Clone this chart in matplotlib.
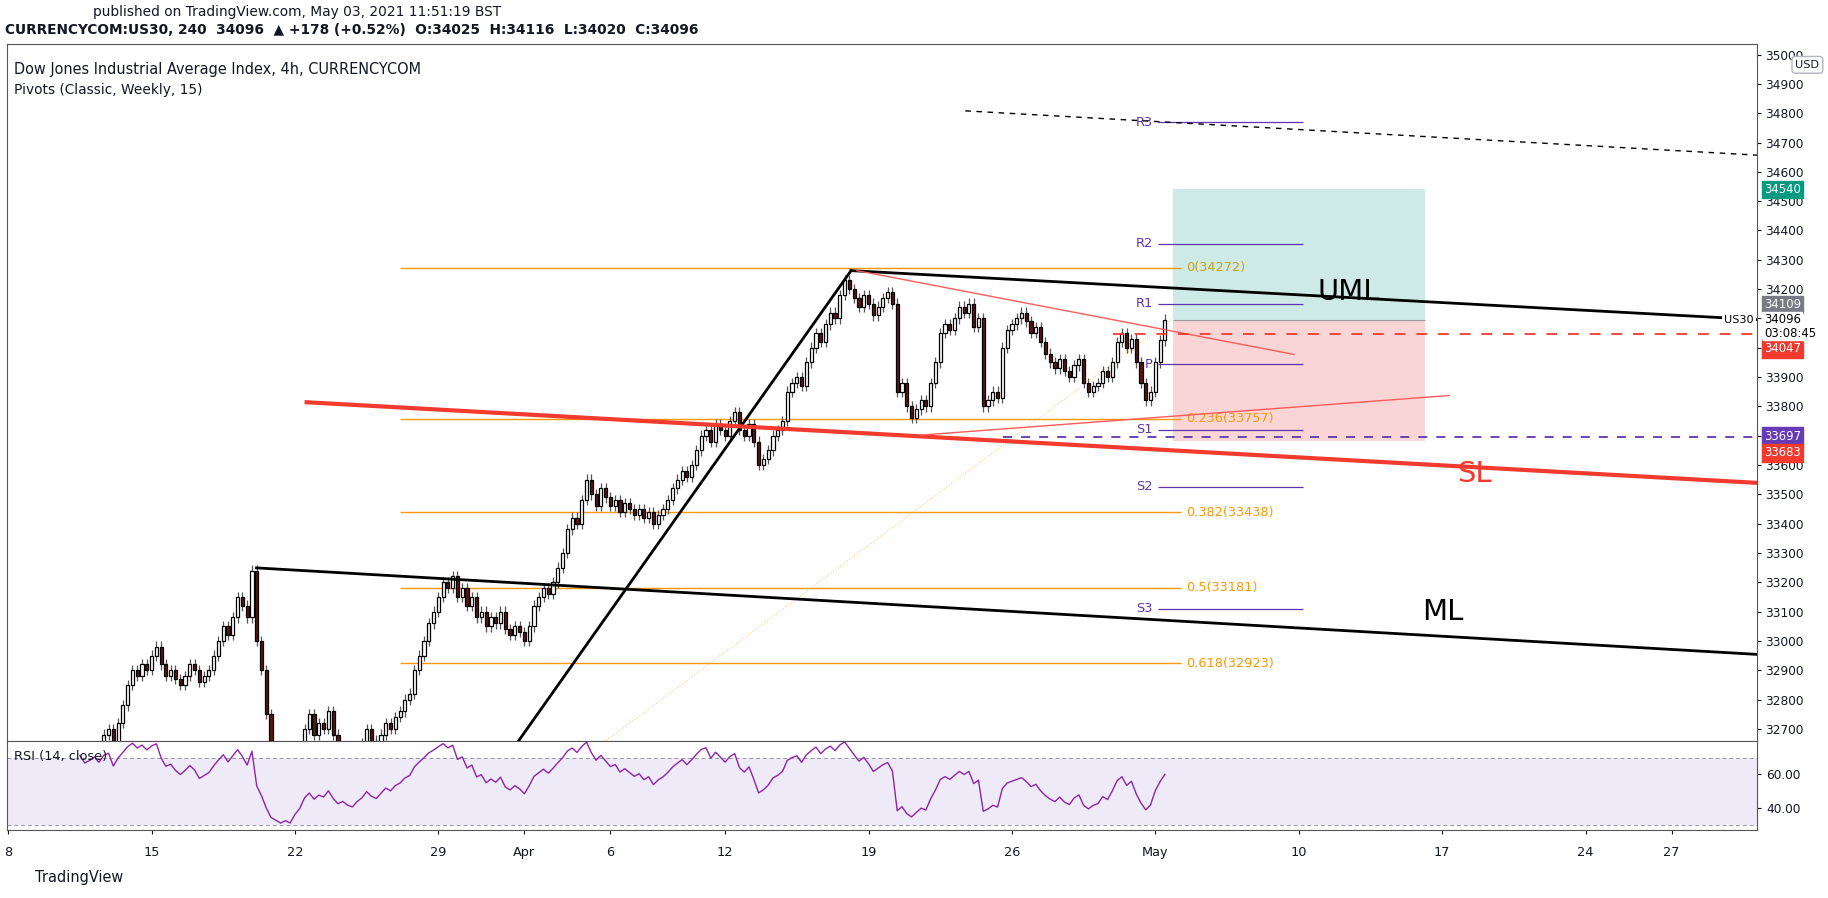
import numpy as np
import matplotlib
matplotlib.use("Agg")
import matplotlib.pyplot as plt
from matplotlib.patches import Rectangle

# --- data: 4h closes, one row per trading day (Mar 8 .. May 3, 2021) ---
closes_by_day = [
    [32400, 32450, 32420, 32480, 32500, 32460],
    [32480, 32520, 32550, 32500, 32530, 32560],
    [32580, 32550, 32600, 32620, 32590, 32610],
    [32640, 32620, 32680, 32700, 32650, 32720],
    [32780, 32850, 32900, 32880, 32920, 32900],
    [32950, 32980, 32920, 32880, 32900, 32870],
    [32850, 32880, 32920, 32900, 32860, 32880],
    [32900, 32950, 33000, 33050, 33020, 33080],
    [33150, 33120, 33080, 33240, 33000, 32900],
    [32750, 32600, 32550, 32500, 32520, 32480],
    [32550, 32600, 32700, 32750, 32680, 32720],
    [32700, 32760, 32680, 32620, 32640, 32600],
    [32580, 32620, 32650, 32700, 32660, 32640],
    [32680, 32720, 32700, 32740, 32760, 32800],
    [32820, 32900, 32950, 33000, 33060, 33100],
    [33150, 33200, 33180, 33220, 33150, 33180],
    [33120, 33150, 33080, 33100, 33050, 33080],
    [33060, 33100, 33040, 33020, 33050, 33030],
    [33000, 33050, 33120, 33150, 33180, 33160],
    [33200, 33250, 33300, 33380, 33420, 33400],
    [33480, 33550, 33500, 33460, 33520, 33490],
    [33460, 33480, 33440, 33470, 33450, 33430],
    [33450, 33420, 33440, 33400, 33430, 33450],
    [33480, 33520, 33550, 33580, 33560, 33600],
    [33650, 33700, 33720, 33680, 33740, 33720],
    [33700, 33750, 33780, 33720, 33700, 33740],
    [33680, 33600, 33620, 33650, 33700, 33720],
    [33750, 33850, 33880, 33900, 33870, 33950],
    [34000, 34050, 34020, 34080, 34120, 34100],
    [34180, 34230, 34200, 34170, 34140, 34180],
    [34150, 34110, 34140, 34170, 34190, 34150],
    [33850, 33880, 33800, 33760, 33790, 33820],
    [33800, 33880, 33950, 34050, 34080, 34060],
    [34100, 34140, 34120, 34150, 34070, 34100],
    [33800, 33820, 33850, 33830, 34000, 34060],
    [34080, 34100, 34120, 34090, 34050, 34070],
    [34020, 33980, 33950, 33930, 33960, 33920],
    [33900, 33940, 33960, 33880, 33850, 33870],
    [33880, 33920, 33900, 33950, 34020, 34050],
    [34000, 34030, 33950, 33880, 33820, 33850],
    [33950, 34025, 34096],
]
first_open = 32380

tick_days = [0, 5, 10, 15, 18, 21, 25, 30, 35, 40, 45, 50, 55, 58]
tick_labels = ["8", "15", "22", "29", "Apr", "6", "12", "19", "26", "May", "10", "17", "24", "27"]

fib_levels = [34272, 33757, 33438, 33181, 32923]
fib_labels = ["0(34272)", "0.236(33757)", "0.382(33438)", "0.5(33181)", "0.618(32923)"]
pivot_levels = [34770, 34355, 34150, 33943, 33720, 33525, 33110]
pivot_labels = ["R3", "R2", "R1", "P", "S1", "S2", "S3"]

BARS_PER_DAY = 6
closes = np.array([c for day in closes_by_day for c in day], dtype=float)
opens = np.concatenate([[first_open], closes[:-1]])
n = len(closes)
idx = np.arange(n)

# RSI(14), Wilder smoothing
diff = np.diff(closes, prepend=first_open)
gain = np.clip(diff, 0, None)
loss = np.clip(-diff, 0, None)
rsi = np.full(n, np.nan)
ag, al = gain[1:15].mean(), loss[1:15].mean()
for i in range(15, n):
    ag = (ag * 13 + gain[i]) / 14
    al = (al * 13 + loss[i]) / 14
    rsi[i] = 100 - 100 / (1 + ag / al) if al > 0 else 100

# --- figure (layout measured on a 1568x770 grid) ---
W, H = 1568, 770
FS = 1.16
fig = plt.figure(figsize=(18.28, 8.98), dpi=100)
L, R = 6, 1507


def rect(y0, y1):
    return [L / W, 1 - y1 / H, (R - L) / W, (y1 - y0) / H]


ax = fig.add_axes(rect(38, 635))
axr = fig.add_axes(rect(635, 712), sharex=ax)
px_per_bar = 4.1
x0 = 7
xmin, xmax = (L - x0) / px_per_bar, (R - x0) / px_per_bar
ax.set_xlim(xmin, xmax)
ax.set_ylim(32660, 35035)


def bx(px):
    return (px - x0) / px_per_bar


# candles
wick = 18
for i in idx:
    o, c = opens[i], closes[i]
    ax.vlines(i, min(o, c) - wick, max(o, c) + wick, color="#555555", lw=0.9, zorder=3)
    up = c >= o
    ax.add_patch(Rectangle((i - 0.33, min(o, c)), 0.66, max(abs(c - o), 3),
                           facecolor="white" if up else "#5d1414", edgecolor="black",
                           lw=0.9, zorder=4))

# fib lines
fib_colors = ["#c9a010", "#ff9800", "#ff9800", "#ff9800", "#ff9800"]
for lvl, lab, col in zip(fib_levels, fib_labels, fib_colors):
    ax.hlines(lvl, bx(343), bx(1013), color="#ff9800", lw=1, zorder=2)
    ax.text(bx(1017), lvl, lab, color=col, fontsize=8 * FS, va="center", ha="left")

# pivots
for lvl, lab in zip(pivot_levels, pivot_labels):
    ax.hlines(lvl, bx(993), bx(1118), color="#5e35b1", lw=0.9, zorder=2)
    ax.text(bx(989), lvl, lab, color="#5e35b1", fontsize=8 * FS, va="center", ha="right")

# position box
ax.add_patch(Rectangle((bx(1006), 34096), bx(1222) - bx(1006), 34540 - 34096,
                       facecolor="#b2dfdb", alpha=0.65, lw=0, zorder=1))
ax.add_patch(Rectangle((bx(1006), 33683), bx(1222) - bx(1006), 34096 - 33683,
                       facecolor="#f8c8c8", alpha=0.75, lw=0, zorder=1))
ax.hlines(34096, bx(1006), bx(1222), color="#999999", lw=0.8, zorder=2)

# trend lines
ax.plot([bx(220), bx(1507)], [33249, 32954], color="black", lw=2, zorder=5)
ax.plot([bx(730), bx(1507)], [34263, 34096], color="black", lw=2, zorder=5)
ax.plot([bx(445), bx(730)], [32660, 34263], color="black", lw=2, zorder=5)
ax.plot([bx(263), bx(1507)], [33814, 33539], color="#f23a2f", lw=3, zorder=5)
ax.plot([bx(735), bx(1110)], [34263, 33977], color="#ff5b5b", lw=1, zorder=5)
ax.plot([bx(790), bx(1243)], [33702, 33837], color="#ff5b5b", lw=1, zorder=5)
ax.plot([bx(828), bx(1507)], [34808, 34657], color="black", lw=1, ls=(0, (4, 4)), zorder=5)
ax.plot([bx(520), bx(1005)], [32660, 34096], color="#ffcc80", lw=0.8, ls=":", zorder=2)
ax.hlines(34047, bx(955), xmax, color="#f23a2f", lw=1.3, ls=(0, (6, 6)), zorder=5)
ax.hlines(33697, bx(860), xmax, color="#5e35b1", lw=1.3, ls=(0, (5, 5)), zorder=5)

ax.text(bx(1130), 34190, "UML", fontsize=18 * FS, color="black", va="center")
ax.text(bx(1250), 33570, "SL", fontsize=18 * FS, color="#f23a2f", va="center")
ax.text(bx(1220), 33100, "ML", fontsize=18 * FS, color="black", va="center")

ax.text(0.004, 0.975, "Dow Jones Industrial Average Index, 4h, CURRENCYCOM", transform=ax.transAxes,
        fontsize=9 * FS, color="#131722", va="top")
ax.text(0.004, 0.945, "Pivots (Classic, Weekly, 15)", transform=ax.transAxes,
        fontsize=8.5 * FS, color="#131722", va="top")

# price axis on right
ax.yaxis.tick_right()
ax.set_yticks(np.arange(32700, 35001, 100))
ax.set_yticklabels([str(v) for v in range(32700, 35001, 100)])
ax.tick_params(axis="y", length=3, labelsize=7.5 * FS, colors="#131722", pad=3)
ax.tick_params(axis="x", length=0, labelbottom=False)

# price tags, stacked so they do not overlap (label position, text, colour)
price_tags = [(34540, "34540", "#089981"), (34148, "34109", "#787b86"),
              (33996, "34047", "#f23a2f"), (33698, "33697", "#673ab7"),
              (33642, "33683", "#f23a2f")]
tag_fs = 7.2 * FS
for lvl, txt, bg in price_tags:
    ax.text(1.004, lvl, txt, transform=ax.get_yaxis_transform(), fontsize=tag_fs, color="white",
            va="center", ha="left", bbox=dict(boxstyle="square,pad=0.2", fc=bg, ec=bg), zorder=10)
ax.text(1.004, 34096, "34096", transform=ax.get_yaxis_transform(), fontsize=tag_fs, color="black",
        va="center", ha="left", bbox=dict(boxstyle="square,pad=0.12", fc="white", ec="white"), zorder=11)
ax.text(1.004, 34050, "03:08:45", transform=ax.get_yaxis_transform(), fontsize=tag_fs,
        color="black", va="center", ha="left",
        bbox=dict(boxstyle="square,pad=0.05", fc="white", ec="white"), zorder=11)
ax.text(0.998, 34096, "US30", transform=ax.get_yaxis_transform(), fontsize=7 * FS, color="black",
        va="center", ha="right", bbox=dict(boxstyle="square,pad=0.2", fc="white", ec="none"), zorder=10)
ax.text(1.022, 34965, "USD", transform=ax.get_yaxis_transform(), fontsize=7 * FS, color="#131722",
        va="center", ha="left", bbox=dict(boxstyle="round,pad=0.3", fc="white", ec="#b2b5be"), zorder=10)

# RSI pane
axr.set_ylim(27, 80)
axr.axhspan(30, 70, color="#7e57c2", alpha=0.12, lw=0)
axr.axhline(70, color="#9598a1", lw=0.7, ls=(0, (4, 3)))
axr.axhline(30, color="#9598a1", lw=0.7, ls=(0, (4, 3)))
axr.plot(idx, rsi, color="#8e24aa", lw=1)
axr.yaxis.tick_right()
axr.set_yticks([40, 60])
axr.set_yticklabels(["40.00", "60.00"])
axr.tick_params(axis="y", length=3, labelsize=7.5 * FS, colors="#131722")
axr.text(0.004, 0.9, "RSI (14, close)", transform=axr.transAxes, fontsize=8 * FS, color="#131722", va="top")
axr.set_xticks([d * BARS_PER_DAY for d in tick_days])
axr.set_xticklabels(tick_labels)
axr.tick_params(axis="x", length=3, labelsize=8 * FS, colors="#131722", pad=8)

for a in (ax, axr):
    for s in a.spines.values():
        s.set_color("#555555")
        s.set_linewidth(0.8)

fig.text(80 / W, 1 - 10 / H, "published on TradingView.com, May 03, 2021 11:51:19 BST",
         fontsize=8.5 * FS, color="#131722", va="center")
fig.text(4 / W, 1 - 26 / H,
         "CURRENCYCOM:US30, 240  34096  \u25b2 +178 (+0.52%)  O:34025  H:34116  L:34020  C:34096",
         fontsize=8.5 * FS, color="#131722", weight="bold", va="center")
fig.text(30 / W, 1 - 752 / H, "TradingView", fontsize=9 * FS, color="#131722", va="center")

fig.savefig("out.png", dpi=100, facecolor="white")
